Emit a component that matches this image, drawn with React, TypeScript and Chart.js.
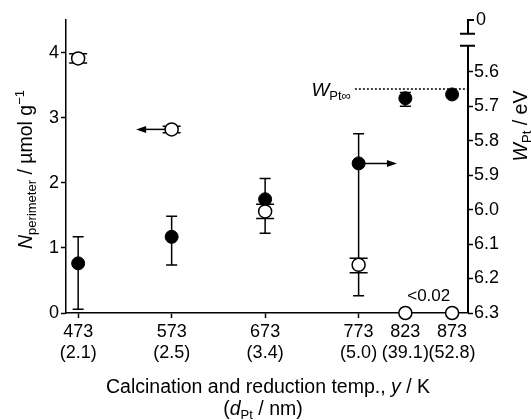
import React, { useEffect, useRef } from "react";
import { Chart, registerables } from "chart.js";

Chart.register(...registerables);

const FONT = '"Liberation Sans", Arial, Helvetica, sans-serif';

// ---- data ----
const temps = [473, 573, 673, 773, 823, 873];
const diameters = ["2.1", "2.5", "3.4", "5.0", "39.1", "52.8"];
const nPerimeter = [3.91, 2.82, 1.56, 0.74, 0, 0];
const nErrLow = [3.84, 2.77, 1.45, 0.62, null, null];
const nErrHigh = [3.98, 2.87, 1.67, 0.84, null, null];
const wPt = [6.156, 6.079, 5.97, 5.866, 5.677, 5.666];
const wErrLow = [6.079, 6.019, 5.91, 5.78, 5.66, null];
const wErrHigh = [6.289, 6.161, 6.069, 6.25, 5.7, null];
const leftTicks = [0, 1, 2, 3, 4];
const rightTicks = [5.6, 5.7, 5.8, 5.9, 6.0, 6.1, 6.2, 6.3];
const wPtInfinity = 5.65;
const wPtInfinityFrom = 769;
const leftArrow = { from: 573, to: 535, value: 2.82 };
const rightArrow = { from: 773, to: 814, value: 5.866 };
const smallLabel = { text: "<0.02", temp: 848, value: 0.19 };
const breakLow = 5.525;
const breakHigh = 5.49;

type Seg = { t: string; size: number; italic?: boolean; dy?: number };

function drawRich(ctx: CanvasRenderingContext2D, segs: Seg[], x: number, baseY: number, align: "center" | "right") {
  const fontOf = (s: Seg) => `${s.italic ? "italic " : ""}${s.size}px ${FONT}`;
  const widths = segs.map((s) => {
    ctx.font = fontOf(s);
    return ctx.measureText(s.t).width;
  });
  const total = widths.reduce((a, b) => a + b, 0);
  let xx = align === "center" ? x - total / 2 : x - total;
  ctx.textAlign = "left";
  ctx.textBaseline = "alphabetic";
  segs.forEach((s, i) => {
    ctx.font = fontOf(s);
    ctx.fillText(s.t, xx, baseY + (s.dy || 0));
    xx += widths[i];
  });
}

const annotations = {
  id: "annotations",
  beforeDatasetsDraw(chart: any) {
    const { ctx, scales } = chart;
    const { x, y, y1 } = scales;
    ctx.save();
    ctx.strokeStyle = "#000";
    ctx.fillStyle = "#000";
    ctx.lineWidth = 1.5;
    const bar = (px: number, a: number, b: number, half: number) => {
      ctx.beginPath();
      ctx.moveTo(px, a);
      ctx.lineTo(px, b);
      ctx.moveTo(px - half, a);
      ctx.lineTo(px + half, a);
      ctx.moveTo(px - half, b);
      ctx.lineTo(px + half, b);
      ctx.stroke();
    };
    temps.forEach((t, i) => {
      const px = x.getPixelForValue(t);
      if (wErrLow[i] != null) bar(px, y1.getPixelForValue(wErrLow[i]), y1.getPixelForValue(wErrHigh[i] as number), 5.5);
      if (nErrLow[i] != null) bar(px, y.getPixelForValue(nErrHigh[i]), y.getPixelForValue(nErrLow[i] as number), 9);
    });
    const arrow = (x0: number, x1: number, py: number) => {
      const dir = x1 > x0 ? 1 : -1;
      ctx.beginPath();
      ctx.moveTo(x0, py);
      ctx.lineTo(x1 - dir * 6, py);
      ctx.stroke();
      ctx.beginPath();
      ctx.moveTo(x1, py);
      ctx.lineTo(x1 - dir * 10, py - 3.5);
      ctx.lineTo(x1 - dir * 10, py + 3.5);
      ctx.closePath();
      ctx.fill();
    };
    arrow(x.getPixelForValue(leftArrow.from), x.getPixelForValue(leftArrow.to), y.getPixelForValue(leftArrow.value));
    arrow(x.getPixelForValue(rightArrow.from), x.getPixelForValue(rightArrow.to), y1.getPixelForValue(rightArrow.value));
    // W_Pt infinity dotted line
    const dy = y1.getPixelForValue(wPtInfinity);
    ctx.save();
    ctx.setLineDash([2, 2]);
    ctx.beginPath();
    ctx.moveTo(x.getPixelForValue(wPtInfinityFrom), dy);
    ctx.lineTo(chart.chartArea.right, dy);
    ctx.stroke();
    ctx.restore();
    ctx.restore();
  },
  afterDraw(chart: any) {
    const { ctx, chartArea, scales } = chart;
    const { x, y, y1 } = scales;
    const r = chartArea.right;
    ctx.save();
    ctx.strokeStyle = "#000";
    ctx.fillStyle = "#000";
    // right axis with break
    ctx.lineWidth = 2;
    const lowY = y1.getPixelForValue(breakLow);
    const highY = y1.getPixelForValue(breakHigh);
    ctx.beginPath();
    ctx.moveTo(r, chartArea.bottom);
    ctx.lineTo(r, lowY);
    ctx.moveTo(r - 8, lowY);
    ctx.lineTo(r + 7, lowY);
    ctx.moveTo(r - 8, highY);
    ctx.lineTo(r + 7, highY);
    ctx.moveTo(r, highY);
    ctx.lineTo(r, chartArea.top);
    ctx.lineTo(r + 6, chartArea.top);
    ctx.stroke();
    ctx.font = `18px ${FONT}`;
    ctx.textAlign = "left";
    ctx.textBaseline = "middle";
    ctx.fillText("0", r + 8, chartArea.top);

    // W_Pt infinity label
    drawRich(
      ctx,
      [
        { t: "W", size: 19, italic: true },
        { t: "Pt\u221E", size: 13, dy: 4 },
      ],
      x.getPixelForValue(wPtInfinityFrom) - 4,
      y1.getPixelForValue(wPtInfinity) + 7,
      "right"
    );

    // <0.02 label
    drawRich(ctx, [{ t: smallLabel.text, size: 17 }], x.getPixelForValue(smallLabel.temp), y.getPixelForValue(smallLabel.value), "center");

    // x title
    const cx = (chartArea.left + chartArea.right) / 2;
    drawRich(
      ctx,
      [
        { t: "Calcination and reduction temp., ", size: 19.5 },
        { t: "y", size: 19.5, italic: true },
        { t: " / K", size: 19.5 },
      ],
      cx + 1,
      393,
      "center"
    );
    drawRich(
      ctx,
      [
        { t: "(", size: 19.5 },
        { t: "d", size: 19.5, italic: true },
        { t: "Pt", size: 13, dy: 4 },
        { t: " / nm)", size: 19.5 },
      ],
      cx - 4,
      415,
      "center"
    );

    // left title
    ctx.save();
    ctx.translate(32, (chartArea.top + chartArea.bottom) / 2 + 3);
    ctx.rotate(-Math.PI / 2);
    drawRich(
      ctx,
      [
        { t: "N", size: 19.5, italic: true },
        { t: "perimeter", size: 13, dy: 4 },
        { t: " / \u00B5mol g", size: 19.5 },
        { t: "\u22121", size: 13, dy: -8 },
      ],
      0,
      0,
      "center"
    );
    ctx.restore();

    // right title
    ctx.save();
    ctx.translate(527, 126);
    ctx.rotate(-Math.PI / 2);
    drawRich(
      ctx,
      [
        { t: "W", size: 19.5, italic: true },
        { t: "Pt", size: 13, dy: 4 },
        { t: " / eV", size: 19.5 },
      ],
      0,
      0,
      "center"
    );
    ctx.restore();
    ctx.restore();
  },
};

export default function App() {
  const ref = useRef<HTMLCanvasElement | null>(null);
  useEffect(() => {
    if (!ref.current) return;
    const tickFont = { family: FONT, size: 18 };
    const chart = new Chart(ref.current, {
      type: "scatter",
      data: {
        datasets: [
          {
            label: "N",
            data: temps.map((t, i) => ({ x: t, y: nPerimeter[i] })),
            yAxisID: "y",
            pointRadius: 6.5,
            pointBackgroundColor: "#fff",
            pointBorderColor: "#000",
            pointBorderWidth: 1.5,
            showLine: false,
            clip: false,
          },
          {
            label: "W",
            data: temps.map((t, i) => ({ x: t, y: wPt[i] })),
            yAxisID: "y1",
            pointRadius: 6.5,
            pointBackgroundColor: "#000",
            pointBorderColor: "#000",
            pointBorderWidth: 1,
            showLine: false,
            clip: false,
          },
        ],
      },
      options: {
        responsive: false,
        animation: false,
        devicePixelRatio: 1,
        layout: { padding: { top: 20, left: 0, right: 0, bottom: 0 } },
        plugins: { legend: { display: false }, tooltip: { enabled: false } },
        scales: {
          x: {
            type: "linear",
            min: 460,
            max: 890,
            afterBuildTicks: (s: any) => {
              s.ticks = temps.map((v) => ({ value: v }));
            },
            afterFit: (s: any) => {
              s.height = 107;
            },
            ticks: {
              autoSkip: false,
              maxRotation: 0,
              minRotation: 0,
              color: "#000",
              font: { ...tickFont, lineHeight: 1.2 },
              padding: 3,
              callback: (v: any) => {
                const i = temps.indexOf(Number(v));
                return [String(v), `(${diameters[i]})`];
              },
            },
            grid: { drawOnChartArea: false, tickLength: 5, color: "#000", tickColor: "#000", tickWidth: 1.5 },
            border: { display: true, color: "#000", width: 1.5 },
          },
          y: {
            type: "linear",
            position: "left",
            min: 0,
            max: 4.5,
            afterBuildTicks: (s: any) => {
              s.ticks = leftTicks.map((v) => ({ value: v }));
            },
            afterFit: (s: any) => {
              s.width = 66;
            },
            ticks: { color: "#000", font: tickFont, padding: 2, callback: (v: any) => String(v) },
            grid: { drawOnChartArea: false, tickLength: 5, color: "#000", tickColor: "#000", tickWidth: 1.5 },
            border: { display: true, color: "#000", width: 1.5 },
          },
          y1: {
            type: "linear",
            position: "right",
            reverse: true,
            min: 5.45,
            max: 6.3,
            afterBuildTicks: (s: any) => {
              s.ticks = rightTicks.map((v) => ({ value: v }));
            },
            afterFit: (s: any) => {
              s.width = 63;
            },
            ticks: { color: "#000", font: tickFont, padding: 1, callback: (v: any) => Number(v).toFixed(1) },
            grid: { drawOnChartArea: false, tickLength: 5, color: "#000", tickColor: "#000", tickWidth: 1.5 },
            border: { display: false },
          },
        },
      },
      plugins: [annotations],
    } as any);
    return () => chart.destroy();
  }, []);
  return (
    <div style={{ position: "fixed", left: 0, top: 0, width: 531, height: 420, background: "#fff" }}>
      <canvas ref={ref} width={531} height={420} style={{ display: "block", width: 531, height: 420 }} />
    </div>
  );
}
